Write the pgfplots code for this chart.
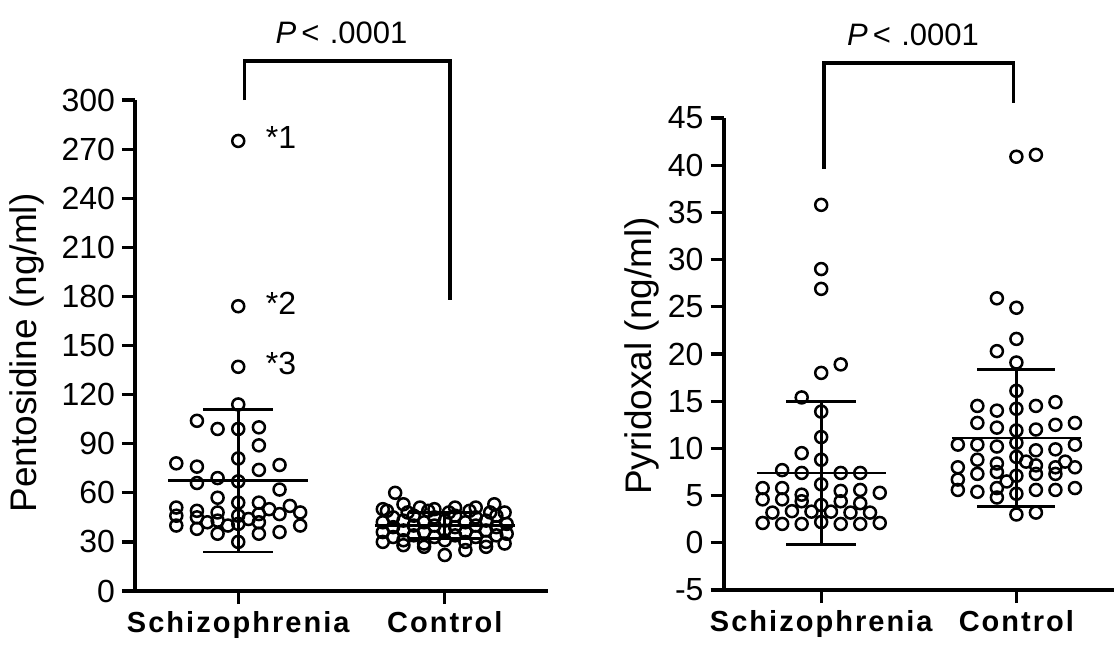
\documentclass[border=0pt]{standalone}
\usepackage{fontspec}
\setmainfont{Liberation Sans}
\newfontfamily\catfont[LetterSpace=7]{Liberation Sans}
\usepackage{pgfplots}
\pgfplotsset{compat=1.18}
\pgfplotsset{
  prism/.style={
    scale only axis,
    axis x line*=bottom, axis y line*=left,
    axis line style={line width=2pt,-},
    every tick/.style={line width=1.6pt,black},
    major tick length=6.5pt,
    tick align=outside,
    xmin=0.5, xmax=2.5,
    xtick={1,2}, xticklabels={Schizophrenia,Control},
    xticklabel style={font=\catfont\bfseries\fontsize{14.5}{16}\selectfont},
    yticklabel style={font=\fontsize{16}{18}\selectfont},
    /pgf/number format/assume math mode=true,
    clip=false,
  },
  pts/.style={only marks, mark=o, mark size=3pt, mark options={line width=1.25pt, black}},
  msd/.style={black, line width=1.4pt, mark=none},
}
\begin{document}
\begin{tikzpicture}
\path[use as bounding box] (0,0) rectangle (557pt,-322pt);
% ---------------- left panel ----------------
\begin{axis}[prism,
  at={(67.5pt,-295.5pt)}, anchor=south west,
  width=206.5pt, height=245.5pt,
  ymin=0, ymax=300, ytick={0,30,...,300},
  ylabel={Pentosidine (ng/ml)},
  every axis y label/.style={at={(axis description cs:-0.2615,0.485)}, rotate=90, anchor=center, font=\fontsize{18.5}{20}\selectfont},
]
\addplot[pts] coordinates {
(1.00,275) (1.00,174) (1.00,137) (1.00,114)
(0.80,104) (0.90,99) (1.00,99) (1.10,100) (1.10,89) (1.00,81)
(0.70,78) (0.80,76) (1.10,74) (1.20,77)
(0.80,66) (0.90,69) (1.00,67) (1.20,62)
(0.90,57) (1.00,54) (1.10,54) (1.15,50) (1.25,52)
(0.70,51) (0.70,46) (0.70,40)
(0.80,49) (0.80,45) (0.80,38)
(0.90,48) (0.90,43) (0.90,35)
(1.00,46) (1.00,41) (1.00,30)
(1.10,47) (1.10,42) (1.10,35)
(1.20,47) (1.20,36)
(1.30,48) (1.30,40)
(1.05,44) (0.95,40) (0.85,42)
};
\addplot[pts] coordinates {
(1.70,30) (1.80,31) (1.90,29) (2.00,31) (2.10,30) (2.20,30) (2.29,29)
(1.75,33) (1.85,34) (1.95,33) (2.05,34) (2.15,33) (2.25,34)
(1.70,36) (1.80,37) (1.90,36) (2.00,37) (2.10,36) (2.20,37) (2.30,35)
(1.75,39) (1.85,40) (1.95,40) (2.05,39) (2.15,40) (2.25,39)
(1.70,42) (1.80,43) (1.90,42) (2.00,43) (2.10,42) (2.20,43) (2.30,41)
(1.75,45) (1.85,46) (1.95,45) (2.05,46) (2.15,45) (2.25,46)
(1.72,49) (1.82,48) (1.92,49) (2.02,48) (2.12,49) (2.22,48) (2.29,48)
(1.80,53) (1.88,51) (1.95,50) (2.05,51) (2.15,51) (2.24,53)
(1.76,60) (1.70,50) (2.00,22) (2.10,25) (1.90,27) (2.20,27) (1.80,28)
};
% mean and SD
\addplot[msd] coordinates {(0.66,67.3) (1.34,67.3)};
\addplot[msd] coordinates {(1,23.8) (1,110.8)};
\addplot[msd] coordinates {(0.83,110.8) (1.17,110.8)};
\addplot[msd] coordinates {(0.83,23.8) (1.17,23.8)};
\addplot[msd] coordinates {(1.66,40) (2.34,40)};
\addplot[msd] coordinates {(2,32) (2,48)};
\addplot[msd] coordinates {(1.83,48) (2.17,48)};
\addplot[msd] coordinates {(1.83,32) (2.17,32)};
% annotations
\node[anchor=west, font=\fontsize{16}{18}\selectfont] at (axis cs:1.10,277) {*1};
\node[anchor=west, font=\fontsize{16}{18}\selectfont] at (axis cs:1.10,176) {*2};
\node[anchor=west, font=\fontsize{16}{18}\selectfont] at (axis cs:1.10,139) {*3};
\draw[line width=1.8pt] (axis cs:1.03,300) -- (axis cs:1.03,323.8) -- (axis cs:2.025,323.8) -- (axis cs:2.025,177.8);
\node[font=\fontsize{15.5}{18}\selectfont] at (axis cs:1.50,341) {\textit{P}\,<\,\,.0001};
\end{axis}
% ---------------- right panel ----------------
\begin{axis}[prism,
  at={(361.8pt,-295pt)}, anchor=south west,
  width=195.2pt, height=236pt,
  ymin=-5, ymax=45, ytick={-5,0,...,45},
  ylabel={Pyridoxal (ng/ml)},
  every axis y label/.style={at={(axis description cs:-0.209,0.496)}, rotate=90, anchor=center, font=\fontsize{18.5}{20}\selectfont},
]
\addplot[pts] coordinates {
(1.0,35.8) (1.0,29.0) (1.0,26.9) (1.0,18.0) (1.1,18.9) (0.9,15.4) (1.0,13.9) (1.0,11.2) (0.9,9.5) (1.0,8.8)
(0.8,7.7) (0.9,7.4) (1.1,7.4) (1.2,7.4)
(0.7,5.8) (0.8,5.8) (0.9,5.1) (1.1,5.5) (1.2,5.6) (1.3,5.3) (1.0,6.2)
(0.7,4.6) (0.8,4.6) (0.9,4.4) (1.0,4.0) (1.1,4.4) (1.2,4.2)
(0.75,3.2) (0.85,3.35) (0.95,3.3) (1.05,3.3) (1.15,3.2) (1.25,3.2)
(0.7,2.1) (0.8,2.0) (0.9,2.0) (1.0,2.2) (1.1,2.0) (1.2,2.0) (1.3,2.1)
};
\addplot[pts] coordinates {
(2.0,40.9) (2.1,41.1) (1.9,25.9) (2.0,24.9) (2.0,21.6) (1.9,20.3) (2.0,19.1) (2.0,16.1)
(1.8,14.5) (1.9,14.0) (2.0,14.2) (2.1,14.5) (2.2,14.9)
(1.8,12.7) (1.9,12.2) (2.0,11.9) (2.1,12.0) (2.2,12.5) (2.3,12.7)
(1.7,10.4) (1.8,10.4) (1.9,10.2) (2.0,10.6) (2.1,9.8) (2.2,9.9) (2.3,10.4)
(1.7,8.0) (1.8,8.8) (1.9,8.4) (2.0,9.1) (2.05,8.6) (2.1,8.2) (2.2,8.0) (2.3,8.0) (2.25,8.6)
(1.7,6.7) (1.8,7.3) (1.9,7.5) (2.0,7.1) (2.1,7.3) (2.2,7.3) (1.95,6.5)
(1.7,5.6) (1.8,5.4) (1.9,5.8) (2.0,5.2) (2.1,5.6) (2.2,5.6) (2.3,5.8)
(1.9,4.8) (2.0,3.0) (2.1,3.2)
};
\addplot[msd] coordinates {(0.67,7.4) (1.33,7.4)};
\addplot[msd] coordinates {(1,-0.2) (1,15.0)};
\addplot[msd] coordinates {(0.82,15.0) (1.18,15.0)};
\addplot[msd] coordinates {(0.82,-0.2) (1.18,-0.2)};
\addplot[msd] coordinates {(1.67,11.1) (2.33,11.1)};
\addplot[msd] coordinates {(2,3.85) (2,18.35)};
\addplot[msd] coordinates {(1.8,18.35) (2.2,18.35)};
\addplot[msd] coordinates {(1.8,3.85) (2.2,3.85)};
\draw[line width=1.8pt] (axis cs:1.014,39.6) -- (axis cs:1.014,50.8) -- (axis cs:1.986,50.8) -- (axis cs:1.986,46.6);
\node[font=\fontsize{15.5}{18}\selectfont] at (axis cs:1.47,53.8) {\textit{P}\,<\,\,.0001};
\end{axis}
\end{tikzpicture}
\end{document}
